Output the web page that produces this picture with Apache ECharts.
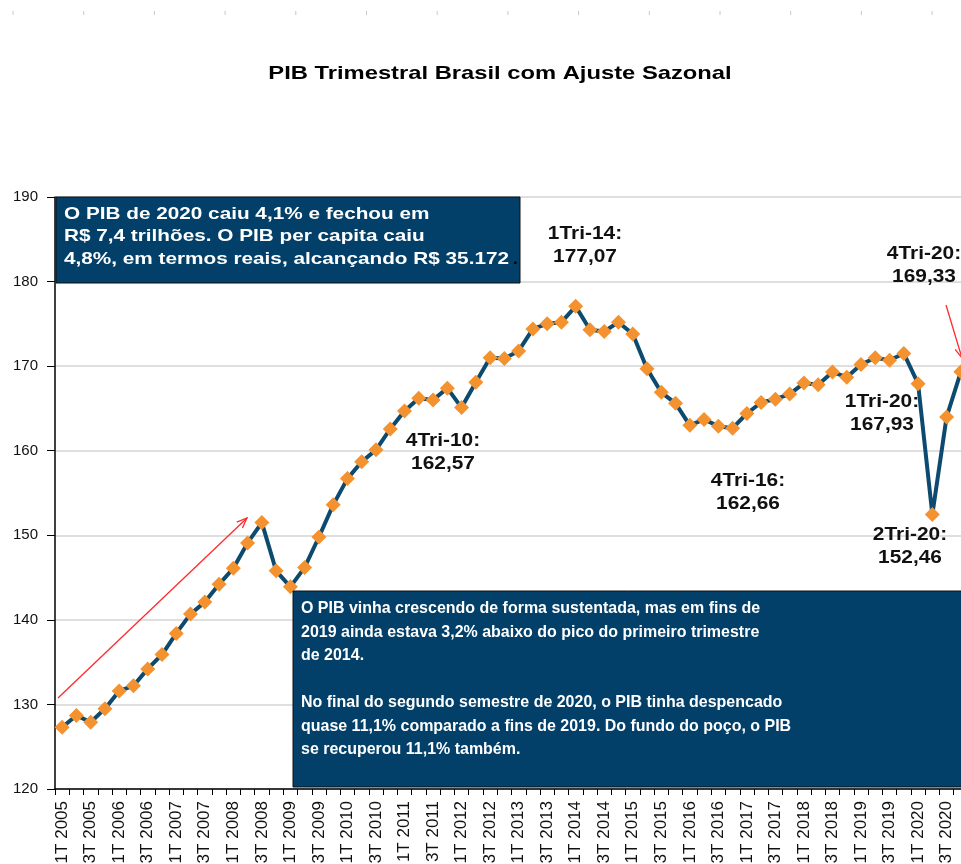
<!DOCTYPE html>
<html>
<head>
<meta charset="utf-8">
<script src="https://cdn.jsdelivr.net/npm/echarts@6/dist/echarts.min.js"></script>
<style>
html,body{margin:0;padding:0;background:#fff;}
#c{width:961px;height:864px;}
</style>
</head>
<body>
<div id="c"></div>
<script>
// ---- data ----
const years = [2005,2006,2007,2008,2009,2010,2011,2012,2013,2014,2015,2016,2017,2018,2019,2020];
const quarters = ['1T','2T','3T','4T'];
const categories = [];
years.forEach(y => quarters.forEach(q => categories.push(q + ' ' + y)));

const pib = [
  127.3, 128.7, 127.9, 129.5,
  131.6, 132.2, 134.2, 135.9,
  138.4, 140.7, 142.1, 144.2,
  146.1, 149.1, 151.5, 145.8,
  143.9, 146.2, 149.8, 153.6,
  156.7, 158.7, 160.1, 162.57,
  164.7, 166.2, 166.0, 167.4,
  165.1, 168.1, 171.0, 170.9,
  171.8, 174.4, 175.0, 175.2,
  177.07, 174.3, 174.1, 175.2,
  173.8, 169.7, 166.9, 165.6,
  163.0, 163.7, 162.9, 162.66,
  164.4, 165.7, 166.1, 166.7,
  168.0, 167.8, 169.3, 168.7,
  170.2, 171.0, 170.7, 171.5,
  167.93, 152.46, 164.0, 169.33
];

const yTicks = [120, 130, 140, 150, 160, 170, 180, 190];

const title = 'PIB Trimestral Brasil com Ajuste Sazonal';
const box1Lines = ['O PIB de 2020 caiu 4,1% e fechou em', 'R$ 7,4 trilhões. O PIB per capita caiu', '4,8%, em termos reais, alcançando R$ 35.172'];
const box2Lines = ['O PIB vinha crescendo de forma sustentada, mas em fins de', '2019 ainda estava 3,2% abaixo do pico do primeiro trimestre', 'de 2014.', '', 'No final do segundo semestre de 2020, o PIB tinha despencado', 'quase 11,1% comparado a fins de 2019. Do fundo do poço, o PIB', 'se recuperou 11,1% também.'];
const callouts = [
  {text: '1Tri-14:\n177,07', x: 585, y: 245},
  {text: '4Tri-10:\n162,57', x: 443, y: 452},
  {text: '4Tri-16:\n162,66', x: 748, y: 492},
  {text: '1Tri-20:\n167,93', x: 882, y: 413},
  {text: '2Tri-20:\n152,46', x: 910, y: 546},
  {text: '4Tri-20:\n169,33', x: 924, y: 265}
];

const FONT = '"Liberation Sans", Arial, sans-serif';
const RED = '#ff2a2a';

function arrow(x1, y1, x2, y2) {
  const a = Math.atan2(y2 - y1, x2 - x1);
  const L = 11, w = 0.38;
  return [
    {type:'line', shape:{x1, y1, x2, y2}, style:{stroke: RED, lineWidth: 1.3}, z: 50},
    {type:'polyline', shape:{points:[
      [x2 - L*Math.cos(a - w), y2 - L*Math.sin(a - w)],
      [x2, y2],
      [x2 - L*Math.cos(a + w), y2 - L*Math.sin(a + w)]
    ]}, style:{stroke: RED, lineWidth: 1.3, fill: null}, z: 50}
  ];
}

const graphics = [];
// faint dashes at the very top
for (let i = 0; i < 14; i++) {
  graphics.push({type:'line', shape:{x1: 13 + i*70.7, y1: 11, x2: 13 + i*70.7, y2: 15}, style:{stroke:'#c8c8c8', lineWidth:1}});
}
graphics.push({type:'text', x: 500, y: 74, scaleX: 1.25, style:{text: title, font: 'bold 19px ' + FONT, fill:'#000', align:'center', verticalAlign:'middle'}});

// box 1
graphics.push({type:'rect', shape:{x: 56, y: 197, width: 464, height: 86}, style:{fill:'#02406a', stroke:'#111', lineWidth:1}, z: 20});
graphics.push({type:'text', x: 64, y: 203, scaleX: 1.22, style:{text: box1Lines.join('\n'), font: 'bold 17px ' + FONT, fill:'#fff', lineHeight: 22.5}, z: 21});
graphics.push({type:'text', x: 513, y: 248, style:{text: '.', font: 'bold 17px ' + FONT, fill:'#000', lineHeight: 22.5}, z: 22});

// box 2
graphics.push({type:'rect', shape:{x: 293, y: 591, width: 700, height: 196}, style:{fill:'#02406a', stroke:'#111', lineWidth:1}, z: 20});
graphics.push({type:'text', x: 301, y: 597, scaleX: 0.94, style:{text: box2Lines.join('\n'), font: 'bold 17px ' + FONT, fill:'#fff', lineHeight: 23.5}, z: 21});

callouts.forEach(c => graphics.push({type:'text', x: c.x, y: c.y, scaleX: 1.1, style:{text: c.text, font: 'bold 19px ' + FONT, fill:'#111', align:'center', verticalAlign:'middle', lineHeight: 23}, z: 30}));

arrow(58, 698, 247, 518).forEach(g => graphics.push(g));
arrow(946, 305, 962, 358).forEach(g => graphics.push(g));

const chart = echarts.init(document.getElementById('c'), null, {renderer:'canvas'});
chart.setOption({
  animation: false,
  backgroundColor: '#fff',
  grid: {left: 55, top: 197, width: 913, height: 592, containLabel: false, outerBoundsMode: 'none'},
  xAxis: {
    type: 'category',
    data: categories,
    boundaryGap: true,
    axisLine: {lineStyle: {color: '#000', width: 1.5}},
    axisTick: {show: true, interval: 0, length: 6, lineStyle: {color: '#000'}},
    axisLabel: {interval: 1, rotate: 90, margin: 12, color: '#111', fontSize: 17, fontFamily: FONT, hideOverlap: false},
    splitLine: {show: false}
  },
  yAxis: {
    type: 'value',
    min: yTicks[0], max: yTicks[yTicks.length - 1], interval: 10,
    axisLine: {show: true, lineStyle: {color: '#000', width: 1.5}},
    axisTick: {show: true, length: 8, lineStyle: {color: '#000'}},
    axisLabel: {margin: 17, color: '#111', fontSize: 15, fontFamily: FONT},
    splitLine: {show: true, lineStyle: {color: '#d4d4d4', width: 1.5}}
  },
  series: [{
    type: 'line',
    data: pib,
    showAllSymbol: true,
    lineStyle: {color: '#0d4a6f', width: 4},
    symbol: 'diamond',
    symbolSize: 15,
    itemStyle: {color: '#f3922f', borderWidth: 0},
    z: 10
  }],
  graphic: graphics
});
</script>
</body>
</html>
